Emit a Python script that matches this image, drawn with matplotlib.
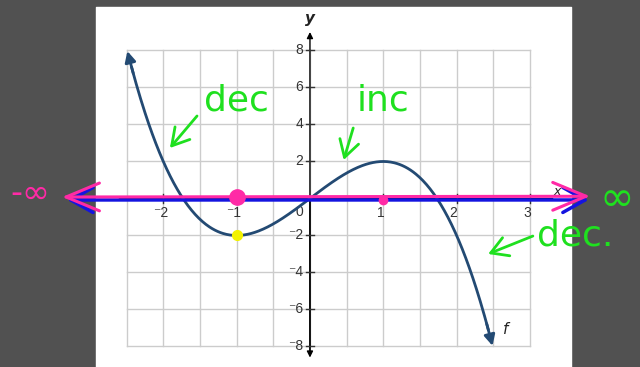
import matplotlib.pyplot as plt
import numpy as np

# cubic f(x) = -x^3 + 3x
coeffs = [-1, 0, 3, 0]
x_end = 2.49
crit_x = [-1, 1]

x_ticks = [-2, -1, 1, 2, 3]
x_labels = ['\u207b2', '\u207b1', '1', '2', '3']
y_ticks = [-8, -6, -4, -2, 2, 4, 6, 8]
y_labels = ['\u207b8', '\u207b6', '\u207b4', '\u207b2', '2', '4', '6', '8']
grid_x = np.arange(-2.5, 3.01, 0.5)
grid_y = np.arange(-8, 8.01, 2)

navy = '#234a73'
green = '#1fe01f'
pink = '#ff2aa6'
blue = '#1414e0'
label_font = ['Liberation Sans', 'DejaVu Sans']

f = lambda t: np.polyval(coeffs, t)

fig = plt.figure(figsize=(6.4, 3.67), dpi=100, facecolor='#515151')
ax = fig.add_axes([0, 0, 1, 1])
ax.set_xlim(-4.227, 4.501)
ax.set_ylim(-9.11, 10.73)
ax.axis('off')

# white page
ax.fill_between([-2.918, 3.56], -9.2, 10.35, color='white', zorder=0)

# grid
for gx in grid_x:
    ax.plot([gx, gx], [-8, 8], color='#cccccc', lw=1, zorder=1)
for gy in grid_y:
    ax.plot([-2.5, 3], [gy, gy], color='#cccccc', lw=1, zorder=1)

# axes
ax.plot([-2.6, 3.3], [0, 0], color='black', lw=1, zorder=2)
ax.annotate('', xy=(0, 9.0), xytext=(0, -8.4),
            arrowprops=dict(arrowstyle='-|>', color='black', lw=1,
                            mutation_scale=9, shrinkA=0, shrinkB=0), zorder=2)
ax.annotate('', xy=(0, -8.6), xytext=(0, 0),
            arrowprops=dict(arrowstyle='-|>', color='black', lw=1,
                            mutation_scale=9, shrinkA=0, shrinkB=0), zorder=2)
for t in x_ticks:
    ax.plot([t, t], [-0.22, 0.22], color='#333333', lw=1, zorder=2)
for t in y_ticks:
    ax.plot([-0.06, 0.06], [t, t], color='#333333', lw=1, zorder=2)
for t, lab in zip(x_ticks, x_labels):
    ax.text(t - 0.04, -0.8, lab, ha='center', va='center', fontsize=10,
            color='#333333', family=label_font)
for t, lab in zip(y_ticks, y_labels):
    ax.text(-0.09, t, lab, ha='right', va='center', fontsize=10,
            color='#333333', family=label_font)
ax.text(-0.09, -0.75, '0', ha='right', va='center', fontsize=10,
        color='#333333', family=label_font)
ax.text(0.0, 9.75, 'y', ha='center', va='center', fontsize=11,
        fontstyle='italic', fontweight='bold', color='#222222')
ax.text(3.37, 0.4, 'x', ha='center', va='center', fontsize=9,
        fontstyle='italic', color='#222222')

# curve with arrow ends
xs = np.linspace(-x_end + 0.06, x_end - 0.06, 400)
ax.plot(xs, f(xs), color=navy, lw=2, zorder=3)
for s in (-1, 1):
    tip = s * x_end
    ax.annotate('', xy=(tip, f(tip)), xytext=(tip - s * 0.08, f(tip - s * 0.08)),
                arrowprops=dict(arrowstyle='-|>', color=navy, lw=2,
                                mutation_scale=16, shrinkA=0, shrinkB=0), zorder=3)
ax.text(2.67, -7.1, 'f', ha='center', va='center', fontsize=11,
        fontstyle='italic', color='#222222')

# hand-drawn number line over the x-axis
ax.annotate('', xy=(-3.31, -0.08), xytext=(3.8, -0.08),
            arrowprops=dict(arrowstyle='<->,head_length=0.8,head_width=0.45',
                            color=blue, lw=2.5, mutation_scale=20,
                            shrinkA=0, shrinkB=0), zorder=4)
ax.annotate('', xy=(-3.38, 0.08), xytext=(3.82, 0.12),
            arrowprops=dict(arrowstyle='<->,head_length=1.2,head_width=0.5',
                            color=pink, lw=2.2, mutation_scale=20,
                            shrinkA=0, shrinkB=0), zorder=5)
ax.plot(crit_x[0], 0.1, 'o', color=pink, ms=11, zorder=6)
ax.plot(crit_x[1], -0.1, 'o', color=pink, ms=6, zorder=6)
ax.plot(crit_x[0], f(crit_x[0]), 'o', color='#f2f200', ms=7, zorder=6)

ax.text(-3.82, 0.3, '-\u221e', ha='center', va='center', fontsize=24, color=pink)
ax.text(3.95, -0.05, '\u221e', ha='left', va='center', fontsize=30, color=green)

# increasing / decreasing notes
ax.text(-1.0, 5.3, 'dec', ha='center', va='center', fontsize=26, color=green)
ax.annotate('', xy=(-1.91, 2.73), xytext=(-1.54, 4.46),
            arrowprops=dict(arrowstyle='->,head_length=0.6,head_width=0.35',
                            color=green, lw=2, mutation_scale=20,
                            shrinkA=0, shrinkB=0))
ax.text(1.0, 5.3, 'inc', ha='center', va='center', fontsize=26, color=green)
ax.annotate('', xy=(0.46, 2.08), xytext=(0.59, 3.81),
            arrowprops=dict(arrowstyle='->,head_length=0.6,head_width=0.35',
                            color=green, lw=2, mutation_scale=20,
                            shrinkA=0, shrinkB=0))
ax.text(3.1, -2.0, 'dec.', ha='left', va='center', fontsize=26, color=green)
ax.annotate('', xy=(2.43, -3.0), xytext=(3.04, -2.03),
            arrowprops=dict(arrowstyle='->,head_length=0.6,head_width=0.35',
                            color=green, lw=2, mutation_scale=20,
                            shrinkA=0, shrinkB=0))

fig.savefig('out.png', dpi=100, facecolor=fig.get_facecolor())
